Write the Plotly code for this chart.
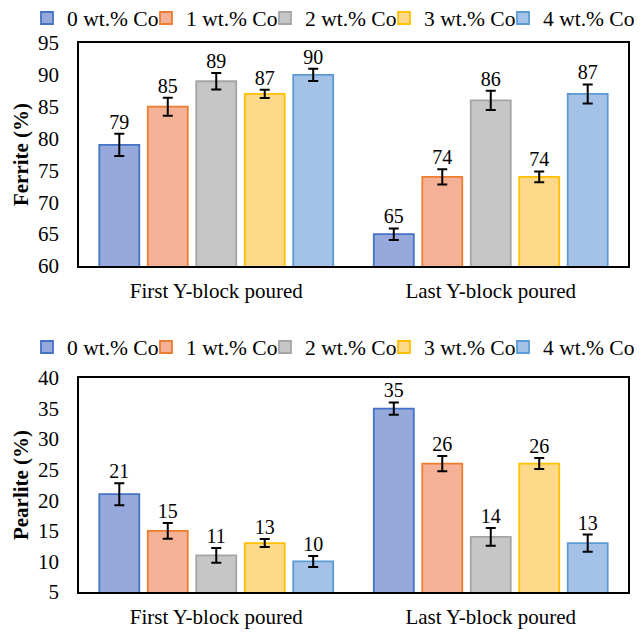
import plotly.graph_objects as go

categories = ["First Y-block poured", "Last Y-block poured"]
series_names = ["0 wt.% Co", "1 wt.% Co", "2 wt.% Co", "3 wt.% Co", "4 wt.% Co"]

ferrite = [[79, 65], [85, 74], [89, 86], [87, 74], [90, 87]]
ferrite_err = [[1.75, 0.9], [1.4, 1.2], [1.3, 1.5], [0.65, 0.85], [0.95, 1.5]]

pearlite = [[21, 35], [15, 26], [11, 14], [13, 26], [10, 13]]
pearlite_err = [[1.8, 1.0], [1.3, 1.25], [1.2, 1.45], [0.65, 0.9], [0.9, 1.4]]

fill_colors = ["#97a9dc", "#f5b195", "#c6c6c6", "#fed98a", "#a4c2e7"]
line_colors = ["#4472c4", "#ed7d31", "#a5a5a5", "#ffc000", "#5b9bd5"]

FONT = "Liberation Serif, Times New Roman, serif"

fig = go.Figure()

# one legend box per entry, so that the entries sit at fixed spacing
LEGEND_X0 = 27      # px, left of first entry
LEGEND_STEP = 119   # px between entries
legend_layout = {}


def legend_key(n):
    return "legend" if n == 1 else f"legend{n}"


def add_panel(values, errors, xa, ya, first_legend, legend_y):
    for i, name in enumerate(series_names):
        key = legend_key(first_legend + i)
        fig.add_trace(go.Bar(
            x=categories, y=values[i], name=name,
            marker=dict(color=fill_colors[i], line=dict(color=line_colors[i], width=1.8)),
            error_y=dict(type="data", array=errors[i], color="black", thickness=2, width=5),
            offsetgroup=str(i),
            xaxis=xa, yaxis=ya, legend=key,
        ))
        legend_layout[key] = dict(
            orientation="h", x=(LEGEND_X0 + i * LEGEND_STEP) / 644, xanchor="left",
            y=legend_y, yanchor="middle", itemwidth=30,
            font=dict(family=FONT, size=21.5, color="black"),
            bgcolor="rgba(0,0,0,0)",
        )
    for i, name in enumerate(series_names):
        tops = [v + e for v, e in zip(values[i], errors[i])]
        fig.add_trace(go.Scatter(
            x=categories, y=tops, mode="text",
            text=[str(v) for v in values[i]], textposition="top center",
            textfont=dict(family=FONT, size=20, color="black"),
            offsetgroup=str(i), showlegend=False, hoverinfo="skip",
            cliponaxis=False, xaxis=xa, yaxis=ya,
        ))


add_panel(ferrite, ferrite_err, "x", "y", 1, 1 - 18/632)
add_panel(pearlite, pearlite_err, "x2", "y2", 6, 1 - 347/632)

axis_common = dict(showline=True, mirror=True, linecolor="black", linewidth=1.5,
                   showgrid=False, zeroline=False, ticks="", automargin=False,
                   tickfont=dict(family=FONT, size=21, color="black"))

XDOM = [79/644, 628/644]

fig.update_layout(
    width=644, height=632,
    margin=dict(l=0, r=0, t=0, b=0, autoexpand=False),
    paper_bgcolor="white", plot_bgcolor="white",
    barmode="group", bargap=0.117, bargroupgap=0.175,
    scattermode="group", scattergap=0.117,
    font=dict(family=FONT, size=21, color="black"),
    xaxis=dict(domain=XDOM, anchor="y", ticklabelstandoff=5, **axis_common),
    yaxis=dict(domain=[1-266/632, 1-43/632], range=[60, 95], dtick=5, anchor="x",
               ticklabelstandoff=14,
               title=dict(text="<b>Ferrite (%)</b>", font=dict(family=FONT, size=21), standoff=4),
               **axis_common),
    xaxis2=dict(domain=XDOM, anchor="y2", ticklabelstandoff=5, **axis_common),
    yaxis2=dict(domain=[1-592/632, 1-378/632], range=[5, 40], dtick=5, anchor="x2",
                ticklabelstandoff=14,
                title=dict(text="<b>Pearlite (%)</b>", font=dict(family=FONT, size=21), standoff=4),
                **axis_common),
    **legend_layout,
)

fig.write_html("out.html",
               config={"displayModeBar": False},
               post_script="document.body.style.margin='0px';document.body.style.overflow='hidden';")
